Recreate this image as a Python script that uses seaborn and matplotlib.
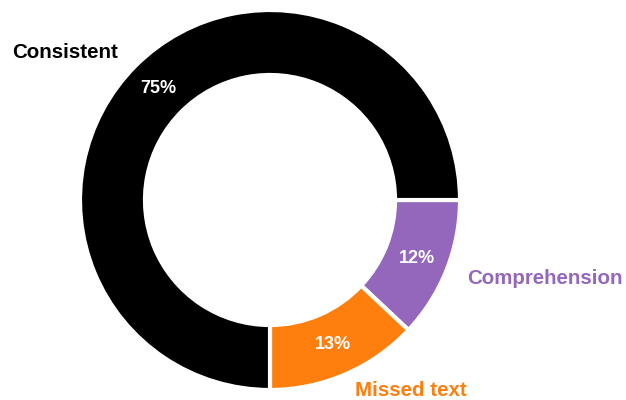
import matplotlib
matplotlib.use("Agg")
import matplotlib.pyplot as plt
import seaborn as sns

# Share of responses by category
categories = ["Comprehension", "Missed text", "Consistent"]
shares = [12, 13, 75]
colors = ["#9467bd", "#ff7f0e", "#000000"]

sns.set_style("white")
plt.rcParams["font.family"] = ["Liberation Sans", "DejaVu Sans"]

W, H, DPI = 626, 400, 100
fig = plt.figure(figsize=(W / DPI, H / DPI), dpi=DPI)
ax = fig.add_axes([0, 0, 1, 1])

R_PX = 190.0
cx, cy = 270.0, 200.0

wedges, texts, autotexts = ax.pie(
    shares,
    colors=colors,
    startangle=0,
    counterclock=False,
    radius=1.0,
    autopct=lambda p: f"{p:.0f}%",
    pctdistance=0.83,
    wedgeprops=dict(width=0.342, edgecolor="white", linewidth=3),
    textprops=dict(color="white", fontsize=13, fontweight="bold"),
)

# Category labels placed beside the ring
label_pos = {
    "Consistent": (65, 53),
    "Comprehension": (545, 278),
    "Missed text": (411, 390),
}
for name, col in zip(categories, colors):
    px, py = label_pos[name]
    ax.text((px - cx) / R_PX, (cy - py) / R_PX, name, color=col,
            fontsize=14.8, fontweight="bold", ha="center", va="center")

ax.set_xlim(-cx / R_PX, (W - cx) / R_PX)
ax.set_ylim(-(H - cy) / R_PX, cy / R_PX)
ax.set_aspect("auto")
ax.axis("off")

fig.savefig("out.png", dpi=DPI)
